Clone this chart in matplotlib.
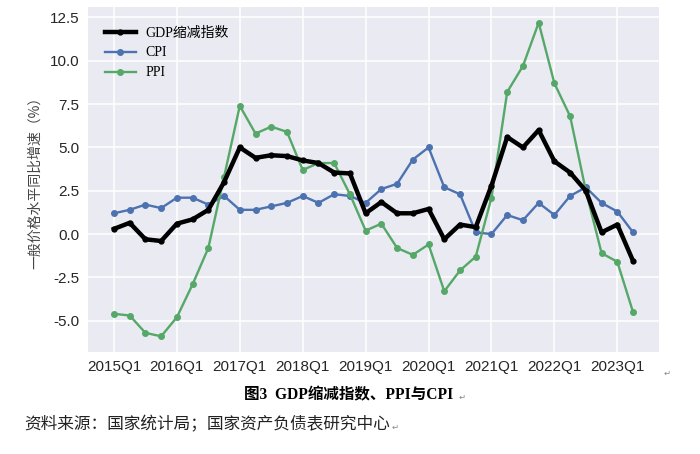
import matplotlib
matplotlib.use("Agg")
import matplotlib.pyplot as plt
import numpy as np

quarters = [f"{y}Q{q}" for y in range(2015, 2024) for q in range(1, 5)][:34]
gdp_deflator = [0.3, 0.65, -0.3, -0.4, 0.6, 0.85, 1.4, 3.0,
                5.0, 4.4, 4.55, 4.5, 4.25, 4.1, 3.55, 3.5,
                1.2, 1.85, 1.2, 1.2, 1.45, -0.3, 0.55, 0.4,
                2.8, 5.6, 5.0, 6.0, 4.2, 3.55, 2.5, 0.1,
                0.55, -1.55]
cpi = [1.2, 1.4, 1.7, 1.5, 2.1, 2.1, 1.7, 2.2,
       1.4, 1.4, 1.6, 1.8, 2.2, 1.8, 2.3, 2.2,
       1.8, 2.6, 2.9, 4.3, 5.0, 2.7, 2.3, 0.1,
       0.0, 1.1, 0.8, 1.8, 1.1, 2.2, 2.7, 1.8,
       1.3, 0.1]
ppi = [-4.6, -4.7, -5.7, -5.9, -4.8, -2.9, -0.8, 3.3,
       7.4, 5.8, 6.2, 5.9, 3.7, 4.1, 4.1, 2.3,
       0.2, 0.6, -0.8, -1.2, -0.6, -3.3, -2.1, -1.3,
       2.1, 8.2, 9.7, 12.2, 8.7, 6.8, 2.5, -1.1,
       -1.6, -4.5]
series_names = ["GDP缩减指数", "CPI", "PPI"]
ylabel = "一般价格水平同比增速（%）"
caption = "图3\u2002GDP缩减指数、PPI与CPI"
source = "资料来源：国家统计局；国家资产负债表研究中心"

plt.rcParams['font.family'] = ['Liberation Sans', 'Noto Sans CJK SC']

W, H = 700, 454
fig = plt.figure(figsize=(W / 100, H / 100), dpi=100)
ax = fig.add_axes([88 / W, 1 - 352 / H, (659 - 88) / W, (352 - 7) / H])
ax.set_facecolor('#EAEAF2')
for s in ax.spines.values():
    s.set_visible(False)
ax.grid(True, color='white', linewidth=1.1)
ax.set_axisbelow(True)

x = np.arange(len(quarters))
ax.plot(x, gdp_deflator, color='black', lw=3.2, marker='o', ms=3.5, label=series_names[0], zorder=3)
ax.plot(x, cpi, color='#4C72B0', lw=1.7, marker='o', ms=4, label=series_names[1], zorder=2)
ax.plot(x, ppi, color='#55A868', lw=1.7, marker='o', ms=4, label=series_names[2], zorder=2)

ax.set_xticks(x[::4])
ax.set_xticklabels(quarters[::4])
ax.set_yticks([-5.0, -2.5, 0.0, 2.5, 5.0, 7.5, 10.0, 12.5])
ax.yaxis.set_major_formatter(matplotlib.ticker.FormatStrFormatter('%.1f'))
ax.tick_params(length=0, labelsize=11, labelcolor='#262626', pad=6)
ax.margins(x=0.05, y=0.05)

ax.set_ylabel(ylabel, family=['Noto Sans CJK SC'], fontsize=10, color='#444444', labelpad=6)

leg = ax.legend(loc='upper left', frameon=False,
                prop={'family': ['Liberation Serif', 'Noto Sans CJK SC'], 'size': 10},
                handlelength=2.2, handletextpad=0.7, labelspacing=0.5,
                bbox_to_anchor=(0.008, 0.98))

fig.text(349 / W, 1 - 395 / H, caption, ha='center', va='center', fontsize=11.2, fontweight='bold',
         family=['Liberation Serif', 'Noto Sans CJK SC', 'DejaVu Serif'], color='black')
fig.text(459 / W, 1 - 397 / H, "↵", ha='left', va='center', fontsize=6, color='#888888', family=['DejaVu Sans'])
fig.text(24 / W, 1 - 425 / H, source, ha='left', va='center', fontsize=12,
         family=['Liberation Serif', 'Noto Sans CJK SC'], color='#222222')
fig.text(392 / W, 1 - 427 / H, "↵", ha='left', va='center', fontsize=6, color='#888888', family=['DejaVu Sans'])
fig.text(664 / W, 1 - 373 / H, "↵", ha='left', va='center', fontsize=6, color='#888888', family=['DejaVu Sans'])

fig.savefig("out.png", dpi=100)
